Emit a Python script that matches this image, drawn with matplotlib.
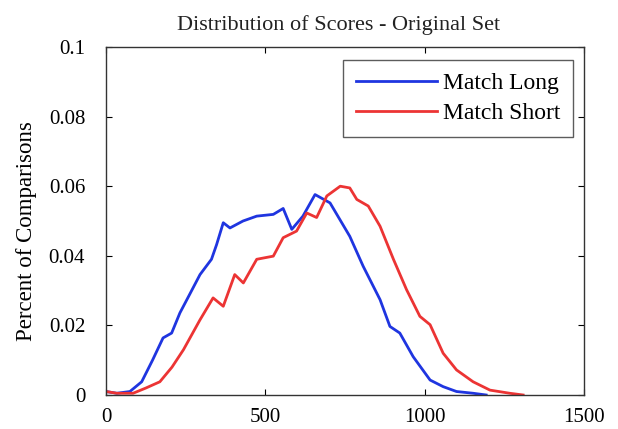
import matplotlib
matplotlib.use("Agg")
import matplotlib.pyplot as plt

# Match Long (blue)
long_x = [0, 34, 75, 112, 146, 179, 206, 232, 263, 295, 331, 347, 368, 389, 430, 473, 525, 556,
          583, 618, 656, 703, 765, 807, 860, 891, 922, 964, 1017, 1058, 1100, 1152, 1193]
long_y = [0.001, 0.0005, 0.001, 0.0038, 0.010, 0.0164, 0.0178, 0.0236, 0.029, 0.0346, 0.039,
          0.0432, 0.0495, 0.048, 0.050, 0.0514, 0.0519, 0.0536, 0.0476, 0.0514, 0.0576, 0.0552,
          0.0456, 0.037, 0.0274, 0.0197, 0.0178, 0.011, 0.0043, 0.0024, 0.001, 0.0005, 0.0]

# Match Short (red)
short_x = [0, 34, 85, 125, 169, 207, 243, 295, 336, 368, 404, 431, 473, 525, 556, 598, 630, 661,
           693, 735, 765, 787, 823, 860, 902, 943, 985, 1017, 1058, 1100, 1152, 1205, 1267, 1309]
short_y = [0.001, 0.0005, 0.0005, 0.002, 0.0038, 0.008, 0.013, 0.0216, 0.0279, 0.0255, 0.0346,
           0.0322, 0.039, 0.0399, 0.0452, 0.0471, 0.0523, 0.051, 0.0572, 0.060, 0.0595, 0.0562,
           0.0543, 0.0485, 0.039, 0.0303, 0.0226, 0.0202, 0.012, 0.0072, 0.0038, 0.0014, 0.0005, 0.0]

x_ticks = [0, 500, 1000, 1500]
y_ticks = [0, 0.02, 0.04, 0.06, 0.08, 0.1]
y_tick_labels = ["0", "0.02", "0.04", "0.06", "0.08", "0.1"]

plt.rcParams['font.family'] = ['Liberation Serif', 'DejaVu Serif']

fig = plt.figure(figsize=(6.18, 4.29), dpi=100)
ax = fig.add_axes([106/618, 1 - 395/429, (584-106)/618, (395-47)/429])

ax.plot(long_x, long_y, color='#1f35e0', lw=2.0, label='Match Long')
ax.plot(short_x, short_y, color='#ec3434', lw=2.0, label='Match Short')

ax.set_xlim(0, 1500)
ax.set_ylim(0, 0.1)
ax.set_xticks(x_ticks)
ax.set_xticklabels([str(t) for t in x_ticks])
ax.set_yticks(y_ticks)
ax.set_yticklabels(y_tick_labels)
ax.tick_params(direction='in', top=True, right=True, labelsize=15, length=4)
ax.tick_params(axis='y', pad=15)
ax.tick_params(axis='x', pad=9)
for s in ax.spines.values():
    s.set_linewidth(1.0)
    s.set_color('#333333')

fig.text(339/618, 1 - 25/429, 'Distribution of Scores - Original Set', fontsize=16,
         ha='center', va='center', color='#222222')
ax.set_ylabel('Percent of Comparisons', fontsize=16.5)
ax.yaxis.set_label_coords(-0.145, 0.47)

leg = ax.legend(loc='upper right', fontsize=17, frameon=True, fancybox=False,
                edgecolor='#333333', handlelength=3.4, borderpad=0.55, labelspacing=0.35,
                handletextpad=0.25, bbox_to_anchor=(0.977, 0.963), borderaxespad=0)
leg.get_frame().set_linewidth(1.0)

fig.savefig('out.png', dpi=100)
